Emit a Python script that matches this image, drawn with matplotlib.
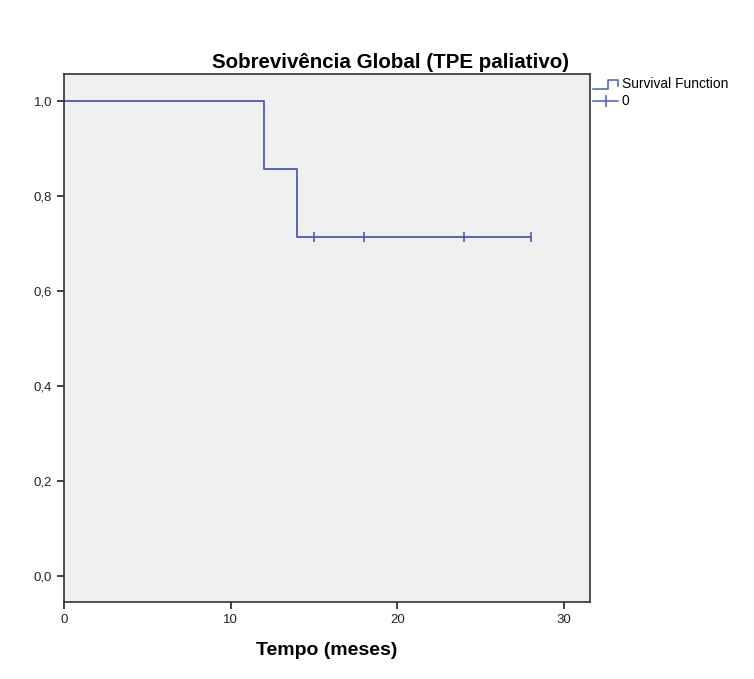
import matplotlib.pyplot as plt
from matplotlib.lines import Line2D
from matplotlib.ticker import FuncFormatter

plt.rcParams['font.family'] = ['Liberation Sans', 'DejaVu Sans']

# Kaplan-Meier step data
times = [0, 12, 12, 14, 14, 28]
survival = [1.0, 1.0, 0.857, 0.857, 0.714, 0.714]
censored_t = [15, 18, 24, 28]
censored_s = [0.714, 0.714, 0.714, 0.714]

x_ticks = [0, 10, 20, 30]
y_ticks = [0.0, 0.2, 0.4, 0.6, 0.8, 1.0]

line_color = '#4b5cb8'

fig = plt.figure(figsize=(7.54, 6.79), dpi=100)
ax = fig.add_axes([64 / 754, 1 - 602 / 679, 526 / 754, 528 / 679])
ax.set_facecolor('#f0f0f0')

ax.plot(times, survival, color=line_color, lw=1.3)
ax.plot(censored_t, censored_s, ls='none', marker='|', ms=7, mew=1.2, color=line_color)

ax.set_xlim(0, 31.56)
ax.set_ylim(-0.055, 1.057)
ax.set_xticks(x_ticks)
ax.set_yticks(y_ticks)
ax.yaxis.set_major_formatter(FuncFormatter(lambda v, p: f"{v:.1f}".replace('.', ',')))
ax.tick_params(direction='out', length=5, width=1.2, labelsize=9.5, colors='#222222')
for s in ax.spines.values():
    s.set_color('#333333')
    s.set_linewidth(1.2)

ax.set_xlabel('Tempo (meses)', fontsize=14, fontweight='bold', labelpad=12)
fig.text(390 / 754, 1 - 62 / 679, 'Sobrevivência Global (TPE paliativo)',
         ha='center', va='center', fontsize=14.8, fontweight='bold')

# legend drawn by hand (step glyph + censor glyph)
def fx(px):
    return px / 754

def fy(py):
    return 1 - py / 679

fig.add_artist(Line2D([fx(593), fx(608), fx(608), fx(618), fx(618)],
                      [fy(89), fy(89), fy(80), fy(80), fy(86)],
                      transform=fig.transFigure, color=line_color, lw=1.1))
fig.add_artist(Line2D([fx(593), fx(618)], [fy(101), fy(101)],
                      transform=fig.transFigure, color=line_color, lw=1.1))
fig.add_artist(Line2D([fx(605.5)], [fy(101)], transform=fig.transFigure,
                      marker='|', ms=9, mew=1.1, color=line_color, ls='none'))
fig.text(fx(622), fy(84), 'Survival Function', fontsize=9.9, va='center')
fig.text(fx(622), fy(101), '0', fontsize=9.9, va='center')

fig.savefig('out.png', dpi=100)
